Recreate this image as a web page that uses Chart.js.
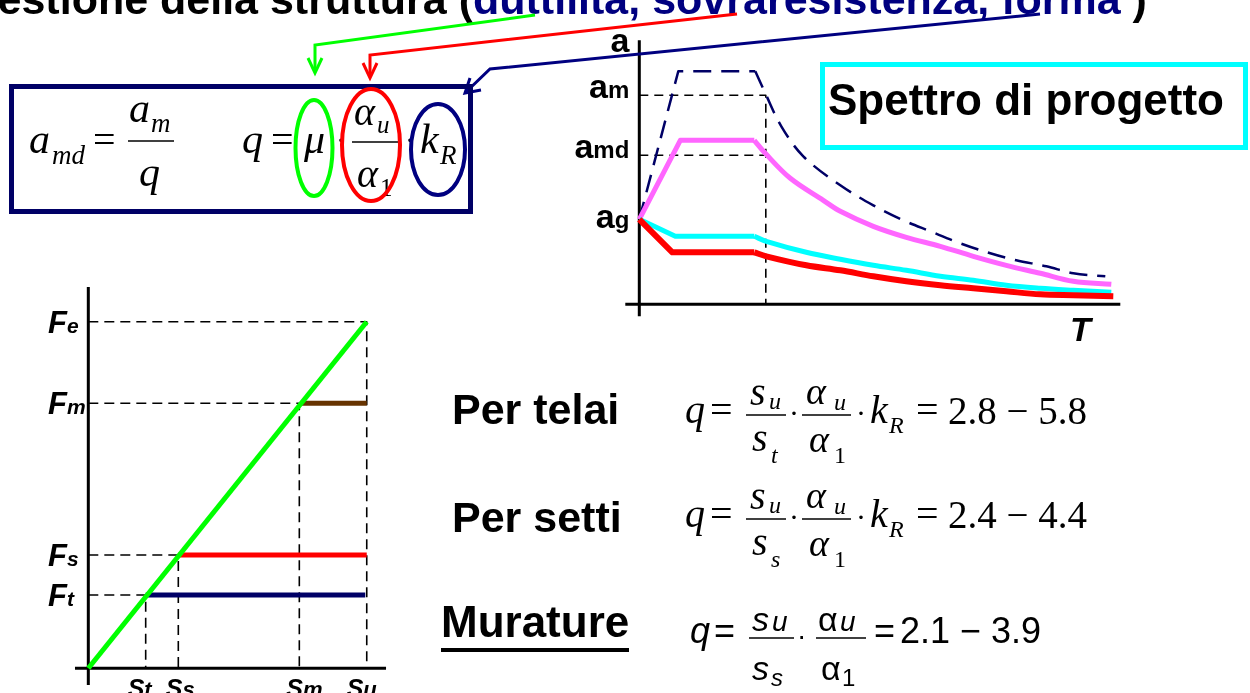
<!DOCTYPE html>
<html><head><meta charset="utf-8">
<script src="https://cdn.jsdelivr.net/npm/chart.js@4.4.0/dist/chart.umd.min.js"></script>
<style>
html,body{margin:0;padding:0;background:#fff;width:1250px;height:693px;overflow:hidden;}
body{position:relative;}
#spec{position:absolute;left:560px;top:28px;width:570px;height:322px;}
#force{position:absolute;left:30px;top:280px;width:380px;height:413px;}
#deco{position:absolute;left:0;top:0;pointer-events:none;}
</style></head><body>
<canvas id="spec" width="570" height="322"></canvas>
<canvas id="force" width="380" height="413"></canvas>
<svg id="deco" width="1250" height="693" viewBox="0 0 1250 693" xmlns="http://www.w3.org/2000/svg">
  <!-- title (cut at top) -->
  <text x="-55" y="14" font-family="Liberation Sans" font-weight="bold" font-size="43" fill="#000">questione della struttura (<tspan fill="#000080">duttilità, sovraresistenza, forma</tspan> )</text>
  <!-- arrows -->
  <g fill="none" stroke-width="3" stroke-linejoin="miter">
    <polyline points="535,15 315,45 315,72" stroke="#00ff00"/>
    <polyline points="308,58 315,73 322,58" stroke="#00ff00"/>
    <polyline points="737,14 370,55 370,77" stroke="#ff0000"/>
    <polyline points="363,63 370,78 377,63" stroke="#ff0000"/>
    <polyline points="1040,14 490,69 465,93" stroke="#000080"/>
    <polyline points="470,78 465,93 481,90" stroke="#000080"/>
  </g>
  <!-- formula box -->
  <rect x="11.5" y="86.5" width="459" height="125" fill="none" stroke="#000066" stroke-width="5"/>
  <g font-family="Liberation Serif" font-style="italic" fill="#000">
    <text x="29" y="153" font-size="42">a</text>
    <text x="52" y="164" font-size="27">md</text>
    <text x="93" y="153" font-size="40" font-style="normal">=</text>
    <text x="129" y="122" font-size="42">a</text>
    <text x="151" y="132" font-size="27">m</text>
    <text x="139" y="186" font-size="42">q</text>
    <text x="242" y="153" font-size="42">q</text>
    <text x="271" y="153" font-size="40" font-style="normal">=</text>
    <text x="304" y="153" font-size="42">μ</text>
    <text x="336" y="150" font-size="30" font-style="normal">·</text>
    <text x="354" y="125" font-size="40">α</text>
    <text x="377" y="133" font-size="25">u</text>
    <text x="357" y="187" font-size="40">α</text>
    <text x="380" y="196" font-size="25" font-style="normal">1</text>
    <text x="405" y="150" font-size="30" font-style="normal">·</text>
    <text x="420" y="153" font-size="42">k</text>
    <text x="440" y="164" font-size="27">R</text>
  </g>
  <line x1="128" y1="141" x2="174" y2="141" stroke="#000" stroke-width="1.6"/>
  <line x1="352" y1="142" x2="398" y2="142" stroke="#000" stroke-width="1.6"/>
  <ellipse cx="314" cy="148" rx="18.5" ry="48" fill="none" stroke="#00ff00" stroke-width="4"/>
  <ellipse cx="371" cy="145" rx="29" ry="56" fill="none" stroke="#ff0000" stroke-width="4"/>
  <ellipse cx="438" cy="149.5" rx="27" ry="45.5" fill="none" stroke="#000080" stroke-width="4"/>
  <!-- Spettro di progetto -->
  <rect x="822.5" y="64.5" width="423" height="83" fill="#fff" stroke="#00ffff" stroke-width="5"/>
  <text x="828" y="115" font-family="Liberation Sans" font-weight="bold" font-size="44">Spettro di progetto</text>

  <!-- bottom formulas -->
  <g font-family="Liberation Sans" font-weight="bold" font-size="43" fill="#000">
    <text x="452" y="424">Per telai</text>
    <text x="452" y="532">Per setti</text>
    <text x="441" y="637" font-size="44">Murature</text>
  </g>
  <rect x="441" y="648" width="188" height="4" fill="#000"/>
  <g font-family="Liberation Serif" font-style="italic" fill="#000">
    <!-- row 1 -->
    <text x="685" y="423" font-size="40">q</text>
    <text x="710" y="423" font-size="40" font-style="normal">=</text>
    <text x="750" y="405" font-size="40">s</text>
    <text x="769" y="409" font-size="24">u</text>
    <text x="752" y="451" font-size="40">s</text>
    <text x="771" y="463" font-size="24">t</text>
    <text x="789" y="423" font-size="30" font-style="normal">·</text>
    <text x="806" y="404" font-size="38">α</text>
    <text x="834" y="410" font-size="24">u</text>
    <text x="809" y="452" font-size="38">α</text>
    <text x="834" y="463" font-size="24" font-style="normal">1</text>
    <text x="856" y="423" font-size="30" font-style="normal">·</text>
    <text x="870" y="423" font-size="40">k</text>
    <text x="889" y="433" font-size="24">R</text>
    <text x="916" y="423" font-size="40" font-style="normal">=</text>
    <text x="948" y="424" font-size="39" font-style="normal">2.8 − 5.8</text>
    <!-- row 2 -->
    <text x="685" y="527" font-size="40">q</text>
    <text x="710" y="527" font-size="40" font-style="normal">=</text>
    <text x="750" y="509" font-size="40">s</text>
    <text x="769" y="513" font-size="24">u</text>
    <text x="752" y="555" font-size="40">s</text>
    <text x="771" y="567" font-size="24">s</text>
    <text x="789" y="527" font-size="30" font-style="normal">·</text>
    <text x="806" y="508" font-size="38">α</text>
    <text x="834" y="514" font-size="24">u</text>
    <text x="809" y="556" font-size="38">α</text>
    <text x="834" y="567" font-size="24" font-style="normal">1</text>
    <text x="856" y="527" font-size="30" font-style="normal">·</text>
    <text x="870" y="527" font-size="40">k</text>
    <text x="889" y="537" font-size="24">R</text>
    <text x="916" y="527" font-size="40" font-style="normal">=</text>
    <text x="948" y="528" font-size="39" font-style="normal">2.4 − 4.4</text>
  </g>
  <g stroke="#000" stroke-width="1.6">
    <line x1="746" y1="415" x2="786" y2="415"/>
    <line x1="802" y1="415" x2="851" y2="415"/>
    <line x1="746" y1="519" x2="786" y2="519"/>
    <line x1="802" y1="519" x2="851" y2="519"/>
    <line x1="749" y1="638" x2="794" y2="638"/>
    <line x1="816" y1="638" x2="866" y2="638"/>
  </g>
  <g font-family="Liberation Sans" fill="#000">
    <!-- row 3 -->
    <text x="690" y="643" font-size="36" font-style="italic">q</text>
    <text x="714" y="643" font-size="36">=</text>
    <text x="752" y="631" font-size="34" font-style="italic">s</text>
    <text x="772" y="631" font-size="28" font-style="italic">u</text>
    <text x="752" y="680" font-size="34" font-style="italic">s</text>
    <text x="771" y="686" font-size="24" font-style="italic">s</text>
    <text x="797" y="645" font-size="28">·</text>
    <text x="818" y="631" font-size="34">α</text>
    <text x="840" y="631" font-size="28" font-style="italic">u</text>
    <text x="821" y="680" font-size="34">α</text>
    <text x="842" y="686" font-size="24">1</text>
    <text x="874" y="643" font-size="36">=</text>
    <text x="900" y="643" font-size="36">2.1 − 3.9</text>
  </g>
</svg>
<script>
// ---------------- Spectrum data (T, a) ----------------
const elasticT = [0, 0.39, 1.16, 1.26, 1.42, 1.64, 2.01, 2.34, 2.64, 2.91, 3.21, 3.51, 3.77, 4.07, 4.34, 4.66];
const elasticA = [0.85, 2.33, 2.33, 2.11, 1.78, 1.48, 1.19, 0.99, 0.84, 0.73, 0.61, 0.51, 0.44, 0.38, 0.31, 0.28];
const pinkT = [0, 0.41, 1.15, 1.26, 1.51, 1.84, 2.01, 2.34, 2.67, 3.01, 3.34, 3.67, 4.01, 4.34, 4.72];
const pinkA = [0.85, 1.64, 1.64, 1.51, 1.26, 1.04, 0.93, 0.78, 0.67, 0.58, 0.48, 0.39, 0.31, 0.23, 0.20];
const cyanT = [0, 0.36, 1.15, 1.27, 1.67, 2.01, 2.34, 2.67, 3.01, 3.34, 3.67, 4.01, 4.34, 4.72];
const cyanA = [0.85, 0.68, 0.68, 0.63, 0.52, 0.45, 0.39, 0.34, 0.28, 0.24, 0.19, 0.16, 0.14, 0.12];
const redT = [0, 0.33, 1.15, 1.27, 1.67, 2.01, 2.34, 2.67, 3.01, 3.34, 3.67, 4.01, 4.34, 4.74];
const redA = [0.85, 0.52, 0.52, 0.48, 0.39, 0.34, 0.28, 0.23, 0.19, 0.16, 0.13, 0.10, 0.09, 0.08];
const a_m = 2.09, a_md = 1.49, a_g = 0.85, T_c = 1.265;
const specTickVals = [a_m, a_md, a_g];
const specTickMain = ['a', 'a', 'a'];
const specTickSub = ['m', 'md', 'g'];
const specAxisTitleY = 'a', specAxisTitleX = 'T';

// ---------------- Force-displacement data ----------------
const dispNames = ['t', 's', 'm', 'u'];          // subscripts of S
const dispVals = [5.77, 9.05, 21.22, 28];        // St, Ss, Sm, Su
const forceNames = ['t', 's', 'm', 'e'];         // subscripts of F
const forceVals = [7.40, 11.44, 26.76, 35];      // Ft, Fs, Fm, Fe

const zip = (xs, ys) => xs.map((x, i) => ({x, y: ys[i]}));

function drawSub(ctx, x, y, main, sub, fMain, fSub, align) {
  ctx.font = fMain; const w1 = ctx.measureText(main).width;
  ctx.font = fSub; const w2 = ctx.measureText(sub).width;
  let x0 = x;
  if (align === 'right') x0 = x - w1 - w2;
  else if (align === 'center') x0 = x - (w1 + w2) / 2;
  ctx.textAlign = 'left'; ctx.textBaseline = 'alphabetic'; ctx.fillStyle = '#000';
  ctx.font = fMain; ctx.fillText(main, x0, y);
  ctx.font = fSub; ctx.fillText(sub, x0 + w1, y);
}

const axesPlugin = {
  id: 'axesDeco',
  beforeDatasetsDraw(chart, args, o) {
    const ctx = chart.ctx, xs = chart.scales.x, ys = chart.scales.y;
    ctx.save();
    ctx.strokeStyle = '#000'; ctx.lineWidth = 3; ctx.setLineDash([]);
    ctx.beginPath();
    ctx.moveTo(xs.getPixelForValue(0), ys.getPixelForValue(o.yFrom));
    ctx.lineTo(xs.getPixelForValue(0), ys.getPixelForValue(o.yTo));
    ctx.moveTo(xs.getPixelForValue(o.xFrom), ys.getPixelForValue(0));
    ctx.lineTo(xs.getPixelForValue(o.xTo), ys.getPixelForValue(0));
    ctx.stroke();
    ctx.restore();
  },
  afterDatasetsDraw(chart, args, o) {
    const ctx = chart.ctx, xs = chart.scales.x, ys = chart.scales.y;
    ctx.save();
    o.draw(ctx, xs, ys);
    ctx.restore();
  }
};

function line(data, color, width, dash, order, smooth) {
  return {data, borderColor: color, borderWidth: width, borderDash: dash || [], showLine: true,
    pointRadius: 0, fill: false, tension: smooth ? 0.35 : 0, order, borderCapStyle: 'butt', borderJoinStyle: 'round'};
}
// spectrum: linear branch (start, plateau) + smooth descending branch
function spectrum(T, A, color, width, dash, order) {
  const pts = zip(T, A);
  return [line(pts.slice(0, 3), color, width, dash, order, false),
          line(pts.slice(2), color, width, dash, order, true)];
}

// ---------- Spectrum chart ----------
const refDash = [9, 6];
new Chart(document.getElementById('spec'), {
  type: 'scatter',
  data: {datasets: [
    ...spectrum(redT, redA, '#ff0000', 6, null, 1),
    ...spectrum(cyanT, cyanA, '#00ffff', 5, null, 2),
    ...spectrum(pinkT, pinkA, '#ff66ff', 5, null, 3),
    ...spectrum(elasticT, elasticA, '#000066', 2.5, [18, 10], 4),
    line([{x: 0, y: a_m}, {x: T_c, y: a_m}, {x: T_c, y: 0}], '#000', 1.6, refDash, 9),
    line([{x: 0, y: a_md}, {x: T_c, y: a_md}], '#000', 1.6, refDash, 9)
  ]},
  options: {
    responsive: false, animation: false, devicePixelRatio: 1,
    layout: {padding: 0},
    plugins: {legend: {display: false}, tooltip: {enabled: false},
      axesDeco: {
        xFrom: -0.14, xTo: 4.81, yFrom: -0.12, yTo: 2.64,
        draw(ctx, xs, ys) {
          const xr = xs.getPixelForValue(0) - 10;
          drawSub(ctx, xr, ys.getPixelForValue(2.64) + 12, specAxisTitleY, '', 'bold 34px "Liberation Sans"', 'bold 24px "Liberation Sans"', 'right');
          const offs = [3, 2.5, 9];
          specTickVals.forEach((v, i) => drawSub(ctx, xr, ys.getPixelForValue(v) + offs[i], specTickMain[i], specTickSub[i],
            'bold 34px "Liberation Sans"', 'bold 24px "Liberation Sans"', 'right'));
          drawSub(ctx, xs.getPixelForValue(4.41), ys.getPixelForValue(0) + 37, specAxisTitleX, '', 'italic bold 34px "Liberation Sans"', 'bold 20px "Liberation Sans"', 'center');
        }
      }
    },
    scales: {
      x: {type: 'linear', display: false, min: -0.793, max: 4.907},
      y: {type: 'linear', display: false, min: -0.457, max: 2.763}
    }
  },
  plugins: [axesPlugin]
});

// ---------- Force-displacement chart ----------
const [St, Ss, Sm, Su] = dispVals;
const [Ft, Fs, Fm, Fe] = forceVals;
const fDatasets = [
  line([{x: 0, y: 0}, {x: Su, y: Fe}], '#00ff00', 5, null, 1),
  line([{x: St, y: Ft}, {x: Su - 0.15, y: Ft}], '#000066', 5, null, 2),
  line([{x: Ss, y: Fs}, {x: Su, y: Fs}], '#ff0000', 5, null, 2),
  line([{x: Sm + 0.2, y: Fm}, {x: Su, y: Fm}], '#663300', 5, null, 2)
];
dispVals.forEach((s, i) => {
  fDatasets.push(line([{x: 0, y: forceVals[i]}, {x: s, y: forceVals[i]}, {x: s, y: 0}], '#000', 1.6, [10, 6], 9));
});
const sLabelShift = [-6, 2, 5, -5];
new Chart(document.getElementById('force'), {
  type: 'scatter',
  data: {datasets: fDatasets},
  options: {
    responsive: false, animation: false, devicePixelRatio: 1,
    layout: {padding: 0},
    plugins: {legend: {display: false}, tooltip: {enabled: false},
      axesDeco: {
        xFrom: -1.34, xTo: 29.94, yFrom: -1.69, yTo: 38.5,
        draw(ctx, xs, ys) {
          forceVals.forEach((v, i) => drawSub(ctx, 18, ys.getPixelForValue(v) + 11, 'F', forceNames[i],
            'italic bold 31px "Liberation Sans"', 'italic bold 21px "Liberation Sans"', 'left'));
          dispVals.forEach((v, i) => drawSub(ctx, xs.getPixelForValue(v) + sLabelShift[i], 417, 'S', dispNames[i],
            'italic bold 25px "Liberation Sans"', 'italic bold 22px "Liberation Sans"', 'center'));
        }
      }
    },
    scales: {
      x: {type: 'linear', display: false, min: -5.864, max: 32.35},
      y: {type: 'linear', display: false, min: -2.494, max: 39.21}
    }
  },
  plugins: [axesPlugin]
});
</script>
</body></html>
